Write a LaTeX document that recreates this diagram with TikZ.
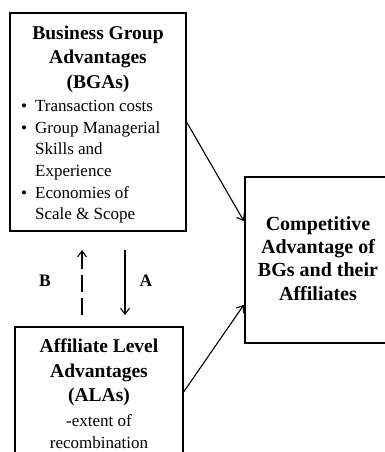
\documentclass[tikz,border=0pt]{standalone}
\usepackage{fontspec}
\setmainfont{Liberation Serif}
\usetikzlibrary{arrows.meta,calc}
\begin{document}
\begin{tikzpicture}[x=1pt,y=-1pt,
  box/.style={draw,line width=1.2pt,rectangle,inner sep=0pt},
  conn/.style={line width=1.1pt,-{Straight Barb[length=6pt,width=9pt,line width=1.1pt]}},
  ttl/.style={font=\fontsize{19.5}{24.5}\selectfont\bfseries,align=center,inner sep=0pt,anchor=base},
  bodytxt/.style={font=\fontsize{17}{21.6}\selectfont,inner sep=0pt,anchor=base},
  lbl/.style={font=\fontsize{17.5}{20}\selectfont\bfseries,inner sep=0pt,anchor=base}]
\useasboundingbox (0,0) rectangle (385,452);
\clip (0,0) rectangle (385,452);
% boxes
\node[box,minimum width=176pt,minimum height=218pt] (bga) at (98,122) {};
\node[box,minimum width=168pt,minimum height=130pt] (ala) at (99,392) {};
\node[box,minimum width=150pt,minimum height=166pt] (cab) at (320,260) {};
% texts (base anchor = last line baseline)
\node[ttl] (bgat) at (98,88.3) {Business Group\\Advantages\\(BGAs)};
\node[bodytxt,anchor=base west] (bgal) at (21,111.7) {%
\begin{tabular}[t]{@{}l@{\hspace{8pt}}l@{}}
\textbullet & Transaction costs\\
\textbullet & Group Managerial\\
 & Skills and\\
 & Experience\\
\textbullet & Economies of\\
 & Scale \& Scope
\end{tabular}};
\node[ttl,font=\fontsize{20}{23.3}\selectfont\bfseries] (cabt) at (318,300) {Competitive\\Advantage of\\BGs and their\\Affiliates};
\node[ttl] (alat) at (99,401.7) {Affiliate Level\\Advantages\\(ALAs)};
\node[bodytxt,align=center] (alal) at (99,448.3) {-extent of\\recombination};
\node[lbl] (lb) at (45,286.7) {B};
\node[lbl] (la) at (146,286.7) {A};
% connectors
\coordinate (bs) at (82,315);
\coordinate (be) at (82,250);
\coordinate (as) at (125,250);
\coordinate (ae) at (125,315);
\draw[conn,dash pattern=on 17pt off 6pt] (bs) -- (be);
\draw[conn] (as) -- (ae);
\draw[conn,shorten >=1pt] (bga.east) -- ($(cab.west)+(0,-38)$);
\draw[conn,shorten >=1pt] (ala.east) -- ($(cab.west)+(0,44)$);
\end{tikzpicture}
\end{document}
